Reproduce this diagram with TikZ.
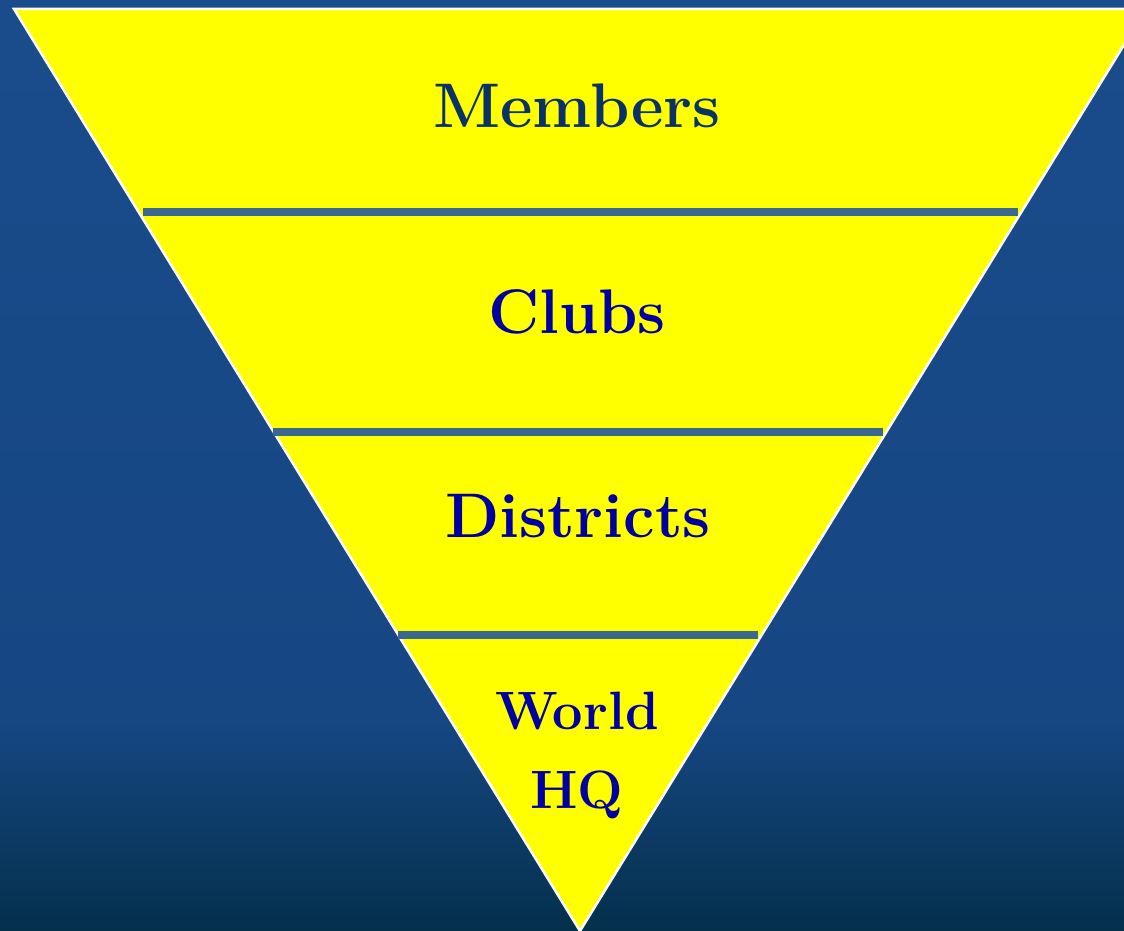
\documentclass[tikz,border=0pt]{standalone}
\begin{document}
\begin{tikzpicture}[x=1pt,y=-1pt,
  bar/.style={line width=8.5pt,draw=barblue},
  lbl/.style={anchor=base,font=\bfseries\fontsize{63}{68}\selectfont,inner sep=0pt},
  small/.style={anchor=base,font=\bfseries\fontsize{54}{58}\selectfont,inner sep=0pt,text=labblue}]
\definecolor{bgtop}{HTML}{1A4B8B}
\definecolor{bgmid}{HTML}{164783}
\definecolor{bgbot}{HTML}{04304C}
\definecolor{barblue}{HTML}{3B6890}
\definecolor{navy}{HTML}{0B3266}
\definecolor{labblue}{HTML}{0000A0}
\definecolor{pureyellow}{RGB}{255,255,0}
\useasboundingbox (0,0) rectangle (1124,931);
\begin{scope}
\clip (0,0) rectangle (1124,931);
\shade[top color=bgtop,bottom color=bgmid] (0,0) rectangle (1124,720);
\shade[top color=bgmid,bottom color=bgbot] (0,719) rectangle (1124,931);
% triangle
\coordinate (tl) at (14,9);
\coordinate (tr) at (1146,9);
\coordinate (ap) at (580,931);
\draw[white,line width=2.5pt,fill=pureyellow,line join=miter] (tl) -- (tr) -- (ap) -- cycle;
\end{scope}
% bars
\coordinate (b1l) at (143,212); \coordinate (b1r) at (1018,212);
\coordinate (b2l) at (273,432); \coordinate (b2r) at (883,432);
\coordinate (b3l) at (398,635); \coordinate (b3r) at (758,635);
\draw[bar] (b1l) -- (b1r);
\draw[bar] (b2l) -- (b2r);
\draw[bar] (b3l) -- (b3r);
% labels
\node[lbl,text=navy] (members) at (577,128) {Members};
\node[lbl,text=labblue] (clubs) at (577,333) {Clubs};
\node[lbl,text=labblue] (districts) at (578,537) {Districts};
\node[small] (world) at (577,729) {World};
\node[small] (hq) at (577,808) {HQ};
\end{tikzpicture}
\end{document}
